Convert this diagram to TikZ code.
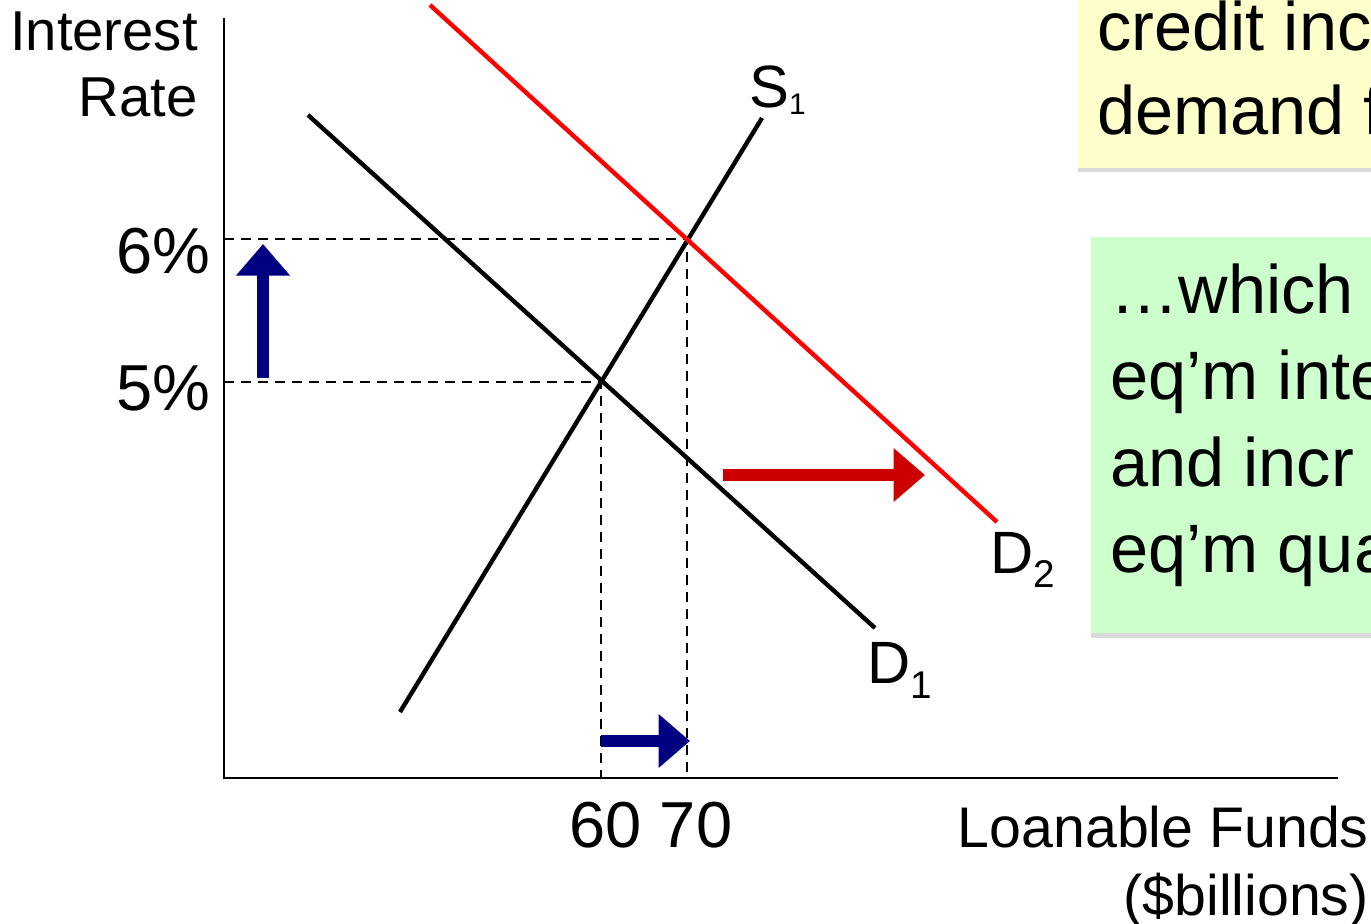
\documentclass[tikz,border=0pt]{standalone}
\usepackage{fontspec}
\setmainfont{Liberation Sans}
\usetikzlibrary{arrows.meta,positioning,shadows}
\definecolor{navyarrow}{RGB}{0,0,128}
\definecolor{shiftred}{RGB}{204,0,0}
\definecolor{noteyellow}{RGB}{255,255,204}
\definecolor{notegreen}{RGB}{204,255,204}
\newcommand{\lowsub}[3]{\raisebox{-#2}{\fontsize{#1}{#1}\selectfont #3}}

\begin{document}
\begin{tikzpicture}[x=0.02cm, y=-0.02cm,
  axis/.style={line width=1.1pt},
  curve/.style={line width=2.5pt},
  guide/.style={line width=0.9pt, dash pattern=on 0.2cm off 0.14cm},
  shift arrow/.style={line width=0.23cm, -{Triangle[length=0.63cm,width=1.04cm]}},
  lbl/.style={inner sep=0pt, font=\fontsize{34}{40}\selectfont},
  tick/.style={inner sep=0pt, font=\fontsize{37}{44}\selectfont},
  note/.style={inner sep=0pt, drop shadow={shadow xshift=0pt, shadow yshift=-2.5pt, opacity=0.3}},
  notetext/.style={inner sep=0pt, align=left, anchor=north west}]
\useasboundingbox (0,0) rectangle (1371,923);
\clip (0,0) rectangle (1371,923);
\coordinate (o) at (224,778); \coordinate (e1) at (601,382); \coordinate (e2) at (687,239);
\draw[guide] (e2 -| o) -- (e2) -- (e2 |- o);
\draw[guide] (e1 -| o) -- (e1) -- (e1 |- o);
\draw[axis] (224,18) -- (o) -- (1338,778);
\coordinate (s1a) at (400,712); \coordinate (s1b) at (762,118);
\coordinate (d1a) at (308,115); \coordinate (d1b) at (875,628);
\coordinate (d2a) at (430,5); \coordinate (d2b) at (997,522);
\draw[curve] (s1a) -- (s1b); \draw[curve] (d1a) -- (d1b); \draw[curve,red] (d2a) -- (d2b);
\node[lbl, anchor=base west] (s1lbl) at (749,107) {S\lowsub{17}{4.5pt}{1}};
\node[lbl, anchor=base west] (d1lbl) at (867,683) {D\lowsub{22}{9pt}{1}};
\node[lbl, anchor=base west] (d2lbl) at (990,573) {D\lowsub{22}{8.5pt}{2}};
\node[lbl, align=right, anchor=north east, font=\fontsize{32}{38}\selectfont] (ylbl) at (198,11) {Interest\\Rate};
\node[lbl, align=right, anchor=north east, font=\fontsize{32.6}{38.5}\selectfont] (xlbl) at (1369,806) {Loanable Funds\\(\$billions)};
\node[tick, anchor=base east] (r6) at (211,273) {6\%};
\node[tick, anchor=base east] (r5) at (211,410) {5\%};
\node[tick, anchor=base] (qty) at (651,847) {60 70};
\coordinate (up0) at (263,378); \coordinate (up1) at (263,244);
\coordinate (qa) at (601,741); \coordinate (qb) at (690,741);
\coordinate (da) at (723,475); \coordinate (db) at (925,475);
\draw[shift arrow, navyarrow] (up0) -- (up1); \draw[shift arrow, navyarrow] (qa) -- (qb);
\draw[shift arrow, shiftred] (da) -- (db);
\node[note, fill=noteyellow, minimum width=6.9cm, minimum height=4cm, anchor=south west] (creditbox) at (1078,168) {};
\node[notetext, font=\fontsize{39}{48.2}\selectfont] (credittxt) at (1097,0) {credit inc\\demand f};
\node[note, fill=notegreen, minimum width=6.6cm, minimum height=7.92cm, anchor=north west] (resultbox) at (1091,237) {};
\node[notetext, font=\fontsize{39}{49.3}\selectfont] (resulttxt) at (1110,263) {…which\\eq’m inte\\and incr\\eq’m qua};
\end{tikzpicture}
\end{document}
